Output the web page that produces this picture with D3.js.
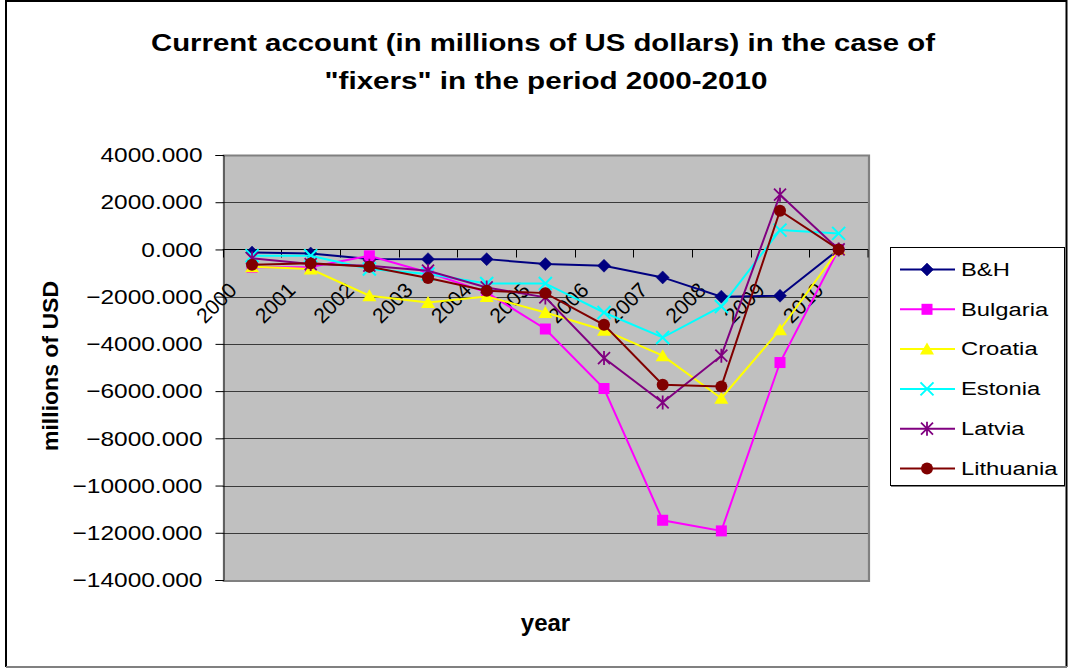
<!DOCTYPE html>
<html>
<head>
<meta charset="utf-8">
<script src="https://cdn.jsdelivr.net/npm/d3@7/dist/d3.min.js"></script>
<style>
  html, body { margin: 0; padding: 0; background: #fff; }
  svg { display: block; font-family: "Liberation Sans", Arial, sans-serif; }
</style>
</head>
<body>
<svg id="chart" width="1068" height="668"></svg>
<script>
// Current account balances, millions of USD
const years = ["2000", "2001", "2002", "2003", "2004", "2005", "2006", "2007", "2008", "2009", "2010"];
const bh        = [-130, -170, -400, -410, -410, -620, -690, -1185, -2000, -1960, 0];
const bulgaria  = [-760, -740, -270, -975, -1820, -3370, -5890, -11470, -11920, -4790, 0];
const croatia   = [-730, -830, -1960, -2245, -1990, -2670, -3420, -4500, -6300, -3400, 0];
const estonia   = [-270, -270, -830, -1040, -1440, -1440, -2670, -3730, -2415, 820, 680];
const latvia    = [-380, -620, -690, -900, -1610, -2030, -4600, -6480, -4500, 2320, 0];
const lithuania = [-650, -590, -730, -1210, -1750, -1850, -3190, -5730, -5800, 1640, 0];
const seriesNames = ["B&H", "Bulgaria", "Croatia", "Estonia", "Latvia", "Lithuania"];
const yTicks = [4000, 2000, 0, -2000, -4000, -6000, -8000, -10000, -12000, -14000];

const seriesValues = [bh, bulgaria, croatia, estonia, latvia, lithuania];
const series = seriesNames.map((name, i) => ({ name, values: seriesValues[i] }));

const styles = {
  "B&H":       { color: "#000080", marker: "diamond" },
  "Bulgaria":  { color: "#FF00FF", marker: "square" },
  "Croatia":   { color: "#FFFF00", marker: "triangle" },
  "Estonia":   { color: "#00FFFF", marker: "x" },
  "Latvia":    { color: "#800080", marker: "star" },
  "Lithuania": { color: "#800000", marker: "circle" }
};

const svg = d3.select("#chart");
const plot = { left: 222.7, right: 868, top: 155, bottom: 580 };

const x = d3.scaleBand().domain(years).range([plot.left, plot.right]).paddingInner(0).paddingOuter(0);
const y = d3.scaleLinear().domain([-14000, 4000]).range([plot.bottom, plot.top]);
const cx = d => x(d) + x.bandwidth() / 2;

// stretch text horizontally to the wide look of the original rendering
function stretch(sel, k) {
  sel.each(function () {
    const w = this.getComputedTextLength();
    this.setAttribute("textLength", (w * k).toFixed(1));
    this.setAttribute("lengthAdjust", "spacingAndGlyphs");
  });
}

// outer chart frame
svg.append("path")
  .attr("d", `M6,667 L6,1 L1066.5,1 L1066.5,667`)
  .attr("fill", "none").attr("stroke", "#000").attr("stroke-width", 2);
svg.append("line")
  .attr("x1", 6).attr("x2", 1067).attr("y1", 667).attr("y2", 667)
  .attr("stroke", "#808080").attr("stroke-width", 2);

// title
const title = svg.append("g").attr("font-weight", "bold").attr("font-size", 24).attr("text-anchor", "middle");
title.append("text").attr("x", 543).attr("y", 51)
  .attr("textLength", 784).attr("lengthAdjust", "spacingAndGlyphs")
  .text("Current account (in millions of US dollars) in the case of");
title.append("text").attr("x", 546).attr("y", 89)
  .attr("textLength", 443).attr("lengthAdjust", "spacingAndGlyphs")
  .text("\"fixers\" in the period 2000-2010");

// plot area background
svg.append("rect")
  .attr("x", plot.left).attr("y", plot.top)
  .attr("width", plot.right - plot.left).attr("height", plot.bottom - plot.top)
  .attr("fill", "#C0C0C0");

// horizontal gridlines
svg.append("g").selectAll("line")
  .data(yTicks.filter(v => v !== 0))
  .join("line")
  .attr("x1", plot.left).attr("x2", plot.right)
  .attr("y1", d => Math.round(y(d)) + 0.5).attr("y2", d => Math.round(y(d)) + 0.5)
  .attr("stroke", "#3a3a3a").attr("stroke-width", 1);

// plot area border (right and bottom shaded)
svg.append("path")
  .attr("d", `M${plot.left},${plot.top + 0.5} L${plot.right + 1},${plot.top + 0.5} L${plot.right + 1},${plot.bottom + 1} L${plot.left},${plot.bottom + 1}`)
  .attr("fill", "none").attr("stroke", "#808080").attr("stroke-width", 2.2);

// y axis
const yAxis = svg.append("g")
  .attr("transform", `translate(${Math.round(plot.left) + 0.5},0)`)
  .call(d3.axisLeft(y).tickValues(yTicks).tickFormat(d3.format(".3f")).tickSize(8).tickPadding(13));
yAxis.select(".domain").attr("stroke", "#000");
yAxis.selectAll(".tick line").attr("stroke", "#000");
yAxis.selectAll(".tick text")
  .attr("font-size", 21).attr("fill", "#000")
  .attr("font-family", "'Liberation Sans', Arial, sans-serif")
  .call(stretch, 1.165);

// x axis on the zero line
const y0 = Math.round(y(0)) + 0.5;
const xAxis = svg.append("g")
  .attr("transform", `translate(0,${y0})`)
  .call(d3.axisBottom(x).tickSize(0));
xAxis.select(".domain").remove();
xAxis.selectAll(".tick text")
  .attr("x", 0).attr("y", 0).attr("dy", null)
  .attr("transform", "translate(-14,42) rotate(-45)")
  .attr("text-anchor", "end")
  .attr("font-size", 21).attr("fill", "#000")
  .attr("font-family", "'Liberation Sans', Arial, sans-serif");
xAxis.append("line")
  .attr("x1", plot.left).attr("x2", plot.right).attr("y1", 0).attr("y2", 0)
  .attr("stroke", "#000");
xAxis.append("g").selectAll("line")
  .data(years.concat(["end"]))
  .join("line")
  .attr("x1", d => d === "end" ? plot.right : Math.round(x(d)) + 0.5)
  .attr("x2", d => d === "end" ? plot.right : Math.round(x(d)) + 0.5)
  .attr("y1", 0).attr("y2", 8)
  .attr("stroke", "#000");

// axis titles
svg.append("text")
  .attr("transform", "translate(58,366) rotate(-90)")
  .attr("text-anchor", "middle").attr("font-weight", "bold").attr("font-size", 22)
  .attr("textLength", 170).attr("lengthAdjust", "spacingAndGlyphs")
  .text("millions of USD");
svg.append("text")
  .attr("x", 545.5).attr("y", 631)
  .attr("text-anchor", "middle").attr("font-weight", "bold").attr("font-size", 24)
  .text("year");

// marker drawing
function drawMarker(g, type, color) {
  switch (type) {
    case "diamond":
      g.append("path").attr("d", "M0,-6.5L6.5,0L0,6.5L-6.5,0Z").attr("fill", color).attr("stroke", color).attr("stroke-width", 0.5);
      break;
    case "square":
      g.append("rect").attr("x", -5.5).attr("y", -5.5).attr("width", 11).attr("height", 11).attr("fill", color);
      break;
    case "triangle":
      g.append("path").attr("d", "M0,-6.5L7,5.5L-7,5.5Z").attr("fill", color);
      break;
    case "circle":
      g.append("circle").attr("r", 6).attr("fill", color);
      break;
    case "x":
      g.append("path").attr("d", "M-6.5,-6.5L6.5,6.5M-6.5,6.5L6.5,-6.5").attr("stroke", color).attr("stroke-width", 2).attr("fill", "none");
      break;
    case "star":
      g.append("path").attr("d", "M-6,-6L6,6M-6,6L6,-6M0,-7L0,7").attr("stroke", color).attr("stroke-width", 1.8).attr("fill", "none");
      break;
  }
}

// series lines and markers
const line = d3.line().x((d, i) => cx(years[i])).y(d => y(d));
const seriesG = svg.append("g");
series.forEach(s => {
  const st = styles[s.name];
  const g = seriesG.append("g");
  g.append("path").attr("d", line(s.values))
    .attr("fill", "none").attr("stroke", st.color).attr("stroke-width", 2);
  s.values.forEach((v, i) => {
    const m = g.append("g").attr("transform", `translate(${cx(years[i])},${y(v)})`);
    drawMarker(m, st.marker, st.color);
  });
});

// legend
const legend = svg.append("g");
legend.append("rect").attr("x", 891).attr("y", 248).attr("width", 175).attr("height", 239)
  .attr("fill", "#808080");
legend.append("rect").attr("x", 890.5).attr("y", 247.5).attr("width", 174).attr("height", 238)
  .attr("fill", "#fff").attr("stroke", "#000").attr("stroke-width", 1);
const rowY = i => 269.5 + i * 39.8;
series.forEach((s, i) => {
  const st = styles[s.name];
  const row = legend.append("g").attr("transform", `translate(0,${rowY(i)})`);
  row.append("line").attr("x1", 900).attr("x2", 955).attr("y1", 0).attr("y2", 0)
    .attr("stroke", st.color).attr("stroke-width", 2);
  drawMarker(row.append("g").attr("transform", "translate(927,0)"), st.marker, st.color);
  row.append("text").attr("x", 961).attr("y", 0).attr("dy", "0.35em")
    .attr("font-size", 18).attr("fill", "#000")
    .text(s.name)
    .call(stretch, 1.32);
});
</script>
</body>
</html>
